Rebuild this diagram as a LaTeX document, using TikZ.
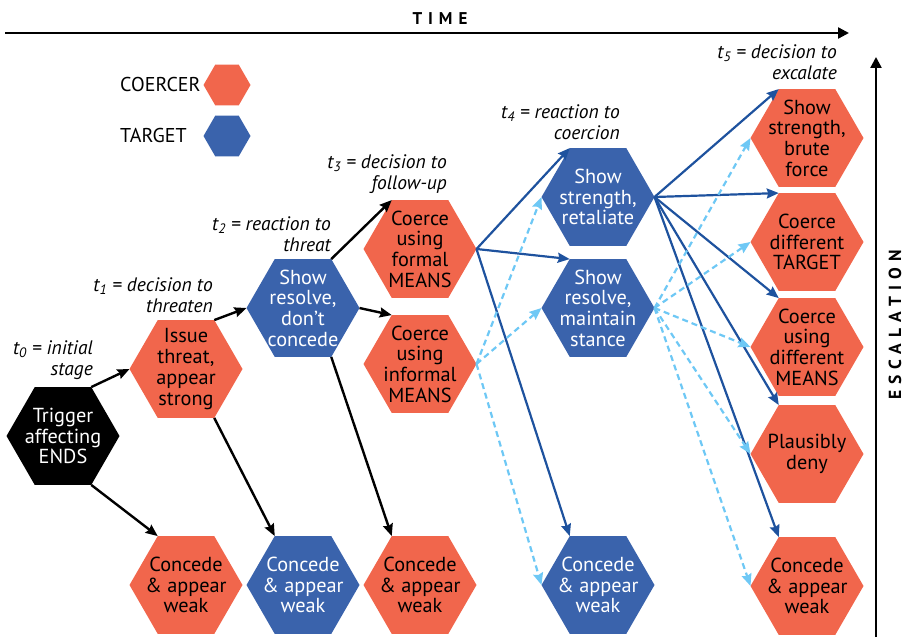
\documentclass[tikz,border=0pt]{standalone}
\usepackage{fontspec}
\setmainfont{PT Sans}
\newfontfamily\spacedfont[LetterSpace=35]{PT Sans}
\usetikzlibrary{shapes.geometric,arrows.meta}
\definecolor{coer}{RGB}{241,102,76}
\definecolor{targ}{RGB}{58,99,172}
\definecolor{darr}{RGB}{30,82,158}
\definecolor{larr}{RGB}{110,200,245}
\newcommand\hexnode[5]{%
  \node[hexa,fill=#2] (#1) at (#3) {};
  \node[htext,text=#4] (#1-t) at (#1) {#5};}
\begin{document}
\begin{tikzpicture}[x=1pt,y=-1pt,
  hexa/.style={regular polygon, regular polygon sides=6, minimum size=113pt, inner sep=0pt, outer sep=0pt, draw=none},
  smallhex/.style={hexa, minimum size=47pt},
  htext/.style={align=center, inner sep=0pt, font=\fontsize{20.3}{20.7}\selectfont},
  tlab/.style={anchor=east, align=right, inner sep=0pt, font=\itshape\fontsize{19.5}{21}\selectfont},
  blk/.style={line width=2.4pt, black, -{Stealth[length=12pt,width=10pt,inset=1.5pt]}},
  blu/.style={line width=2.2pt, darr, -{Stealth[length=12pt,width=10pt,inset=1.5pt]}},
  lbl/.style={line width=2.2pt, larr, dash pattern=on 6pt off 4pt, -{Stealth[length=12pt,width=10pt,inset=1.5pt]}},
  axis/.style={line width=2.4pt, black, -{Triangle[length=11pt,width=11pt]}}]
\useasboundingbox (0,0) rectangle (907,639);

% axes
\coordinate (ta) at (5,33);
\coordinate (tb) at (849,33);
\draw[axis] (ta) -- (tb);
\node[font=\spacedfont\bfseries\fontsize{17}{18}\selectfont, inner sep=0pt] (time) at (440,19) {TIME};
\coordinate (ea) at (876,637);
\coordinate (eb) at (876,57);
\draw[axis] (ea) -- (eb);
\node[font=\spacedfont\bfseries\fontsize{17.5}{18}\selectfont, inner sep=0pt, rotate=90] (esc) at (895,325) {ESCALATION};

% legend
\node[anchor=west, inner sep=0pt, font=\fontsize{20}{21}\selectfont] (lc) at (120,85) {COERCER};
\node[smallhex, fill=coer] (lch) at (227,85) {};
\node[anchor=west, inner sep=0pt, font=\fontsize{20}{21}\selectfont] (lt) at (120,136) {TARGET};
\node[smallhex, fill=targ] (lth) at (227,136) {};

% hexagons
\hexnode{trig}{black}{63,436}{white}{Trigger\\affecting\\ENDS}
\hexnode{issue}{coer}{186,369}{black}{Issue\\threat,\\appear\\strong}
\hexnode{resolve}{targ}{303,308}{white}{Show\\resolve,\\don’t\\concede}
\hexnode{formal}{coer}{420,249}{black}{Coerce\\using\\formal\\MEANS}
\hexnode{informal}{coer}{420,364}{black}{Coerce\\using\\informal\\MEANS}
\hexnode{strength}{targ}{598,197}{white}{Show\\strength,\\retaliate}
\hexnode{maintain}{targ}{598,308}{white}{Show\\resolve,\\maintain\\stance}
\hexnode{brute}{coer}{807,138}{black}{Show\\strength,\\brute\\force}
\hexnode{dtarget}{coer}{807,242}{black}{Coerce\\different\\TARGET}
\hexnode{dmeans}{coer}{807,347}{black}{Coerce\\using\\different\\MEANS}
\hexnode{deny}{coer}{807,454}{black}{Plausibly\\deny}
\hexnode{cfive}{coer}{807,586}{black}{Concede\\\& appear\\weak}
\hexnode{cone}{coer}{186,585}{black}{Concede\\\& appear\\weak}
\hexnode{ctwo}{targ}{303,585}{white}{Concede\\\& appear\\weak}
\hexnode{cthree}{coer}{420,585}{black}{Concede\\\& appear\\weak}
\hexnode{cfour}{targ}{598,585}{white}{Concede\\\& appear\\weak}

% time labels
\node[tlab] (l0) at (93,360) {t\textsubscript{0} = initial\\stage};
\node[tlab] (l1) at (213,295) {t\textsubscript{1} = decision to\\threaten};
\node[tlab] (l2) at (331,234) {t\textsubscript{2} = reaction to\\threat};
\node[tlab] (l3) at (447,174) {t\textsubscript{3} = decision to\\follow-up};
\node[tlab] (l4) at (620,122) {t\textsubscript{4} = reaction to\\coercion};
\node[tlab] (l5) at (837,62) {t\textsubscript{5} = decision to\\excalate};

% black arrows
\draw[blk] (trig.60) -- (issue.180);
\draw[blk] (trig.300) -- (cone.120);
\draw[blk] (issue.60) -- (resolve.180);
\draw[blk] (issue.300) -- (ctwo.120);
\draw[blk] (resolve.60) -- (formal.120);
\draw[blk] (resolve.0) -- (informal.120);
\draw[blk] (resolve.300) -- (cthree.120);

% dark blue arrows
\draw[blu] (formal.0) -- (strength.120);
\draw[blu] (formal.0) -- (maintain.120);
\draw[blu] (formal.0) -- (cfour.120);
\draw[blu] (strength.0) -- (brute.120);
\draw[blu] (strength.0) -- (dtarget.120);
\draw[blu] (strength.0) -- (dmeans.120);
\draw[blu] (strength.0) -- (deny.120);
\draw[blu] (strength.0) -- (cfive.120);

% light blue dashed arrows
\draw[lbl] (informal.0) -- (strength.180);
\draw[lbl] (informal.0) -- (maintain.180);
\draw[lbl] (informal.0) -- (cfour.180);
\draw[lbl] (maintain.0) -- (brute.180);
\draw[lbl] (maintain.0) -- (dtarget.180);
\draw[lbl] (maintain.0) -- (dmeans.180);
\draw[lbl] (maintain.0) -- (deny.180);
\draw[lbl] (maintain.0) -- (cfive.180);
\end{tikzpicture}
\end{document}
